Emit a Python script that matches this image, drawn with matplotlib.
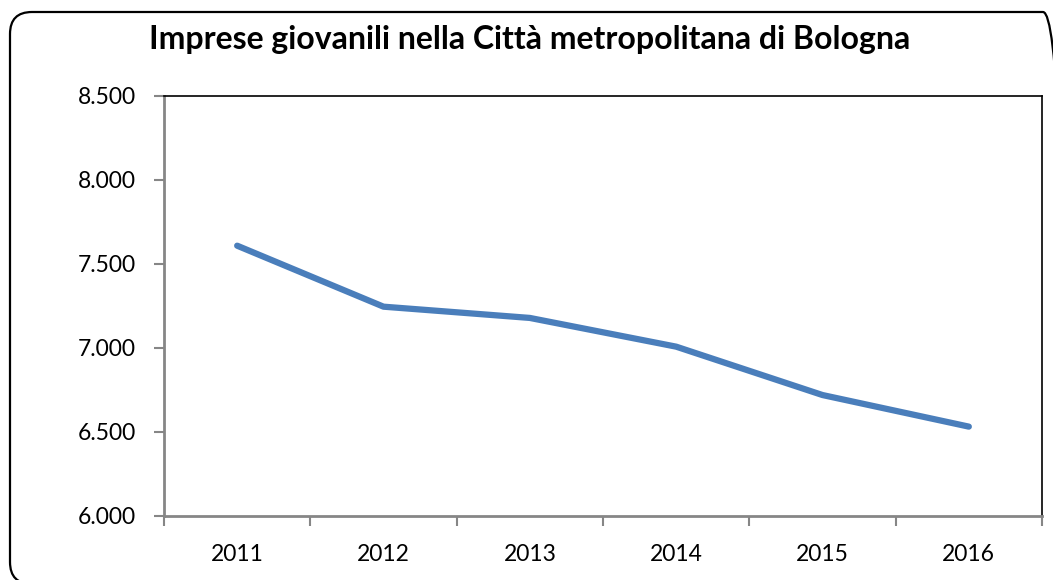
import matplotlib.pyplot as plt
from matplotlib.patches import FancyBboxPatch
from matplotlib.ticker import FuncFormatter, MultipleLocator

plt.rcParams['font.family'] = ['Lato', 'DejaVu Sans']

# Data
years = ['2011', '2012', '2013', '2014', '2015', '2016']
imprese = [7609, 7246, 7179, 7008, 6720, 6532]

fig = plt.figure(figsize=(10.53, 5.80), dpi=100)

# rounded outer frame, in inches (runs slightly off the right/bottom edge)
frame = FancyBboxPatch((0.10, -0.04), 10.55, 5.72,
                       boxstyle="round,pad=0,rounding_size=0.22",
                       transform=fig.dpi_scale_trans, fill=False,
                       edgecolor='black', linewidth=1.6)
fig.patches.append(frame)

ax = fig.add_axes([164 / 1053, 1 - 516 / 580, 878 / 1053, 420 / 580])

x = list(range(len(years)))
ax.plot(x, imprese, color='#4a7ebb', linewidth=4.5, solid_capstyle='round',
        solid_joinstyle='round')

ax.set_xlim(-0.5, len(years) - 0.5)
ax.set_ylim(6000, 8500)
ax.yaxis.set_major_locator(MultipleLocator(500))
ax.yaxis.set_major_formatter(FuncFormatter(lambda v, p: f"{int(v):,}".replace(',', '.')))

# ticks at category boundaries, labels centred
ax.set_xticks([i - 0.5 for i in range(len(years) + 1)])
ax.set_xticklabels([])
ax.set_xticks(x, minor=True)
ax.set_xticklabels(years, minor=True)
ax.tick_params(axis='x', which='minor', length=0, labelsize=16.5, pad=20)
ax.tick_params(axis='x', which='major', length=7, width=1.5, color='#868686', direction='out')
ax.tick_params(axis='y', length=7, width=1.5, color='#868686', direction='out',
               labelsize=16.5, pad=13)

for side in ['left', 'bottom']:
    ax.spines[side].set_color('#868686')
    ax.spines[side].set_linewidth(2)
for side in ['top', 'right']:
    ax.spines[side].set_color('black')
    ax.spines[side].set_linewidth(1.2)

fig.text(530 / 1053, 1 - 40 / 580, 'Imprese giovanili nella Città metropolitana di Bologna',
         ha='center', va='center', fontsize=23, fontweight='bold')

fig.savefig('out.png', dpi=100)
